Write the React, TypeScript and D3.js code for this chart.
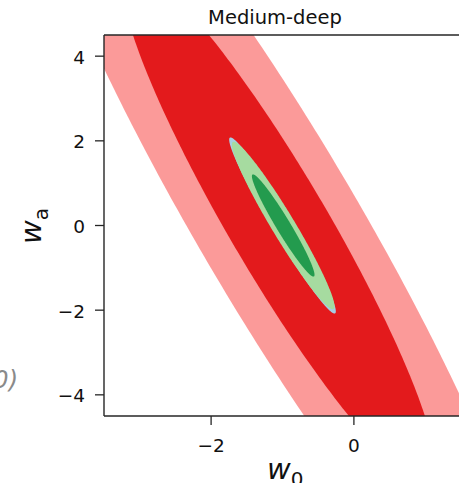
import React from 'react'
import * as d3 from 'd3'

// axis setup
const xTicks = [-2, 0]
const yTicks = [-4, -2, 0, 2, 4]
const xDomain = [-3.5, 1.5]
const yDomain = [-4.5, 4.5]

// chi2 (2 dof) levels for the 95% and 68% contours
const levels = [6.18, 2.3]

// posterior means and covariances [xx, xy, yy]
const redMean = [-1.05, 0]
const redCov = [2.09, -5.41, 16.1]
const redColors = ['#fb9a99', '#e31a1c']

const blueMean = [-1, 0]
const blueCov = [0.0903, -0.245, 0.7]
const blueColors = ['#a6cee3', '#1f78b4']

const greenMean = [-0.99, 0]
const greenCov = [0.0836, -0.222, 0.634]
const greenColors = ['#a6dba0', '#239b4e']

const W = 459
const H = 483
const left = 104
const top = 35
const right = 461
const bottom = 416

function ellipse(mean: number[], cov: number[], level: number) {
    const a = Math.sqrt(cov[0])
    const b = cov[1] / a
    const c = Math.sqrt(cov[2] - b * b)
    const s = Math.sqrt(level)
    return d3.range(0, 360, 1).map(deg => {
        const t = (deg * Math.PI) / 180
        const u = Math.cos(t), v = Math.sin(t)
        return [mean[0] + s * a * u, mean[1] + s * (b * u + c * v)] as [number, number]
    })
}

const fmt = (v: number) => (v < 0 ? '\u2212' + Math.abs(v) : String(v))

export default function App() {
    const x = d3.scaleLinear().domain(xDomain).range([left, right])
    const y = d3.scaleLinear().domain(yDomain).range([bottom, top])
    const line = d3.line<[number, number]>()
        .x(d => x(d[0]))
        .y(d => y(d[1]))
        .curve(d3.curveLinearClosed)

    const groups = [
        { mean: redMean, cov: redCov, colors: redColors },
        { mean: blueMean, cov: blueCov, colors: blueColors },
        { mean: greenMean, cov: greenCov, colors: greenColors },
    ]

    const font = 'DejaVu Sans, sans-serif'

    return (
        <svg width={W} height={H} style={{ position: 'absolute', left: 0, top: 0, background: 'white' }}
            fontFamily={font}>
            <defs>
                <clipPath id="plot">
                    <rect x={left} y={top} width={right - left} height={bottom - top} />
                </clipPath>
            </defs>
            <g clipPath="url(#plot)">
                {groups.map((g, gi) =>
                    levels.map((lv, li) => (
                        <path key={gi + '-' + li} d={line(ellipse(g.mean, g.cov, lv)) || ''}
                            fill={g.colors[li]} />
                    ))
                )}
            </g>

            {/* spines */}
            <g stroke="#262626" strokeWidth={1.4} fill="none">
                <line x1={left} x2={left} y1={top} y2={bottom} />
                <line x1={left} x2={right} y1={top} y2={top} />
                <line x1={left} x2={right} y1={bottom} y2={bottom} />
                <line x1={right} x2={right} y1={top} y2={bottom} />
            </g>

            {/* y axis */}
            {yTicks.map(t => (
                <g key={'y' + t}>
                    <line x1={left - 9} x2={left} y1={y(t)} y2={y(t)} stroke="#262626" strokeWidth={1.3} />
                    <text x={left - 19} y={y(t) + 7.5} textAnchor="end" fontSize={18.5} fill="#111">{fmt(t)}</text>
                </g>
            ))}

            {/* x axis */}
            {xTicks.map(t => (
                <g key={'x' + t}>
                    <line x1={x(t)} x2={x(t)} y1={bottom} y2={bottom + 9} stroke="#262626" strokeWidth={1.3} />
                    <text x={x(t)} y={452} textAnchor="middle" fontSize={18.5} fill="#111">{fmt(t)}</text>
                </g>
            ))}

            <text x={275} y={24} textAnchor="middle" fontSize={19.5} fill="#111">Medium-deep</text>

            <text x={267} y={479} fontSize={29} fontStyle="italic" fill="#111">
                w<tspan fontSize={20} fontStyle="normal" dy={7}>0</tspan>
            </text>

            <text transform="translate(41,244) rotate(-90)" fontSize={29} fontStyle="italic" fill="#111">
                w<tspan fontSize={20} fontStyle="normal" dy={7}>a</tspan>
            </text>

            <text x={18} y={388} textAnchor="end" fontSize={24} fontStyle="italic" fill="#8a8a8a">0)</text>
        </svg>
    )
}
